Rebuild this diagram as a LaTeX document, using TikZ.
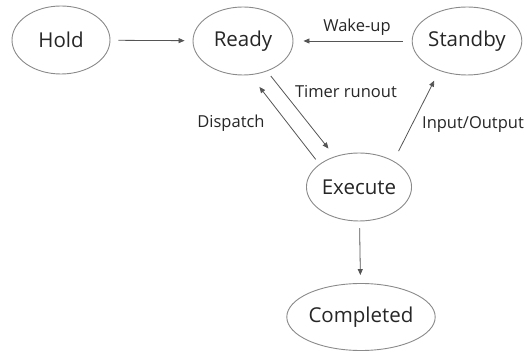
\documentclass[tikz,border=0pt]{standalone}
\usepackage{fontspec}
\setmainfont{Open Sans}
\usetikzlibrary{shapes.geometric,arrows.meta}
\definecolor{edgec}{HTML}{8A8A8A}
\definecolor{linec}{HTML}{555555}
\definecolor{textc}{HTML}{262626}
\begin{document}
\begin{tikzpicture}[x=1pt,y=-1pt,
  state/.style={ellipse,draw=edgec,line width=0.9pt,inner sep=0pt,text=textc,font=\fontsize{20.5}{23}\selectfont},
  arr/.style={draw=linec,line width=0.8pt,-{Triangle[length=6pt,width=5pt]}},
  lbl/.style={text=textc,font=\fontsize{16.5}{19}\selectfont,inner sep=0pt}]
\useasboundingbox (0,0) rectangle (527,352);
\node[state,minimum width=98pt,minimum height=68pt] (hold) at (61,40) {Hold};
\node[state,minimum width=100pt,minimum height=68pt] (ready) at (243,41) {Ready};
\node[state,minimum width=100pt,minimum height=68pt] (standby) at (467,41) {Standby};
\node[state,minimum width=102pt,minimum height=68pt] (execute) at (359,187) {Execute};
\node[state,minimum width=132pt,minimum height=67pt] (completed) at (361,317) {Completed};
\draw[arr,shorten <=8pt,shorten >=8pt] (hold) -- (ready);
\draw[arr,shorten <=9pt,shorten >=10pt] (standby) -- (ready);
\draw[arr,shorten <=6pt,shorten >=10pt] (ready) -- (execute);
\draw[arr,shorten <=6pt,shorten >=15pt] (execute.150) -- (ready.-78);
\draw[arr,shorten <=11pt,shorten >=11pt] (execute.37) -- (standby.227);
\draw[arr,shorten <=7pt,shorten >=8pt] (execute) -- (completed);
\node[lbl] (lwake) at (357,27) {Wake-up};
\node[lbl] (ltimer) at (346,92) {Timer runout};
\node[lbl] (ldisp) at (231,123) {Dispatch};
\node[lbl] (lio) at (473,125) {Input/Output};
\end{tikzpicture}
\end{document}
